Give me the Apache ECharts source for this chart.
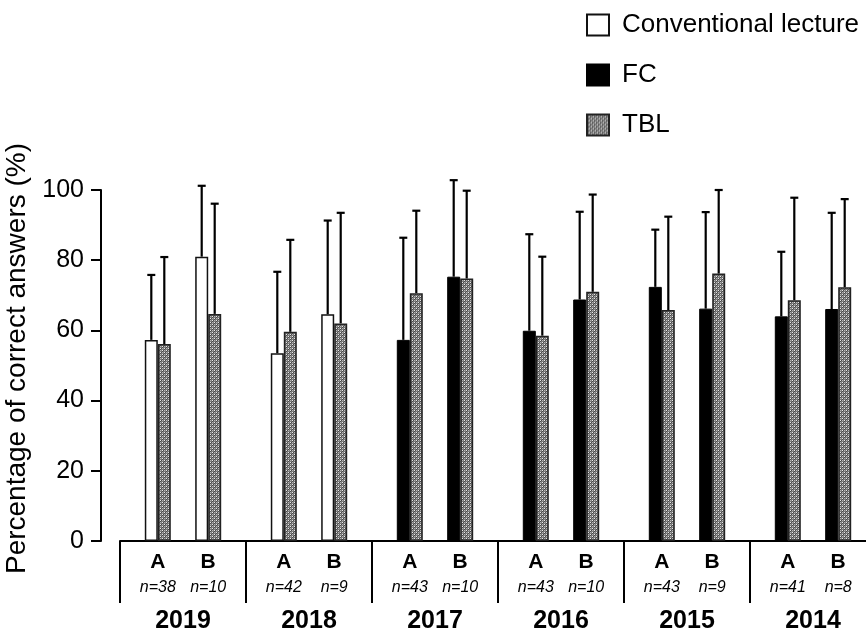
<!DOCTYPE html>
<html>
<head>
<meta charset="utf-8">
<script src="https://cdn.jsdelivr.net/npm/echarts@6/dist/echarts.min.js"></script>
<style>
  html, body { margin: 0; padding: 0; background: #fff; }
  #chart { width: 866px; height: 637px; }
</style>
</head>
<body>
<div id="chart"></div>
<script>
// Academic years, cohorts within each year, and cohort sizes
const years = ['2019', '2018', '2017', '2016', '2015', '2014'];
const cohorts = ['A', 'B'];
const sampleSizes = [38, 10, 42, 9, 43, 10, 43, 10, 43, 9, 41, 8];

// Mean percentage of correct answers (one entry per year/cohort) and SD
const lectureMean = [57.3, 81.0, 53.5, 64.6, null, null, null, null, null, null, null, null];
const lectureSD   = [18.5, 20.2, 23.2, 26.7, null, null, null, null, null, null, null, null];
const fcMean      = [null, null, null, null, 57.3, 75.3, 59.9, 68.8, 72.4, 66.2, 64.0, 66.1];
const fcSD        = [null, null, null, null, 29.1, 27.5, 27.5, 25.0, 16.3, 27.5, 18.4, 27.4];
const tblMean     = [56.1, 64.7, 59.6, 62.0, 70.6, 74.8, 58.5, 71.0, 65.8, 76.2, 68.6, 72.3];
const tblSD       = [24.8, 31.4, 26.2, 31.5, 23.5, 25.0, 22.5, 27.7, 26.6, 23.8, 29.2, 25.1];

const yTicks = [0, 20, 40, 60, 80, 100];

// Each year spans five slots: gap, A, gap, B, gap
const SLOTS_PER_YEAR = 5;
const cohortSlot = [1, 3];
const slotCount = years.length * SLOTS_PER_YEAR;
const slots = [];
for (let i = 0; i < slotCount; i++) slots.push('s' + i);

function slotIndex(k) {
  return Math.floor(k / 2) * SLOTS_PER_YEAR + cohortSlot[k % 2];
}
function spread(values) {
  const out = new Array(slotCount).fill(null);
  values.forEach((v, k) => { out[slotIndex(k)] = v; });
  return out;
}
function cohortOfSlot(i) {
  const p = i % SLOTS_PER_YEAR;
  const c = cohortSlot.indexOf(p);
  if (c < 0) return null;
  return { year: Math.floor(i / SLOTS_PER_YEAR), cohort: c };
}

// Dotted mesh fill used for TBL bars
function meshPattern() {
  const c = document.createElement('canvas');
  c.width = 4; c.height = 4;
  const g = c.getContext('2d');
  g.fillStyle = '#7a7a7a';
  g.fillRect(0, 0, 4, 4);
  g.fillStyle = '#4a4a4a';
  g.fillRect(1, 0, 1, 1); g.fillRect(3, 2, 1, 1);
  g.fillRect(0, 1, 1, 1); g.fillRect(2, 3, 1, 1);
  g.fillStyle = '#e8e8e8';
  g.fillRect(0, 0, 1, 1); g.fillRect(2, 2, 1, 1);
  g.fillStyle = '#b4b4b4';
  g.fillRect(2, 0, 1, 1); g.fillRect(0, 2, 1, 1);
  return { image: c, repeat: 'repeat' };
}

const BAR_W = 13;
// Error bar items: [slot, mean, mean + SD, side(-1 left bar, +1 right bar)]
const errorItems = [];
[[lectureMean, lectureSD, -1], [fcMean, fcSD, -1], [tblMean, tblSD, 1]].forEach(([m, sd, side]) => {
  m.forEach((v, k) => {
    if (v != null) errorItems.push([slotIndex(k), v, v + sd[k], side]);
  });
});

const FONT = '"Liberation Sans", Arial, Helvetica, sans-serif';

const chart = echarts.init(document.getElementById('chart'), null, { renderer: 'canvas' });

chart.setOption({
  backgroundColor: '#ffffff',
  animation: false,
  textStyle: { fontFamily: FONT, color: '#000' },
  legend: {
    orient: 'vertical',
    left: 581,
    top: 7,
    icon: 'rect',
    itemWidth: 22,
    itemHeight: 21,
    itemGap: 24,
    data: ['Conventional lecture', 'FC', 'TBL'],
    textStyle: { fontFamily: FONT, fontSize: 26, color: '#000', padding: [0, 0, 0, 8] }
  },
  grid: { left: 120, top: 190, width: 756, height: 351, outerBoundsMode: 'none', containLabel: false },
  xAxis: [
    {
      type: 'category',
      data: slots,
      position: 'bottom',
      axisLine: { show: false },
      axisTick: { show: false },
      axisLabel: {
        interval: 0,
        margin: 8,
        formatter: function (value, idx) {
          const info = cohortOfSlot(idx);
          if (!info) return '';
          const n = sampleSizes[info.year * 2 + info.cohort];
          return '{c|' + cohorts[info.cohort] + '}\n{n|n=' + n + '}';
        },
        rich: {
          c: { fontFamily: FONT, fontSize: 21, fontWeight: 'bold', color: '#000', lineHeight: 26 },
          n: { fontFamily: FONT, fontSize: 16, fontStyle: 'italic', color: '#000', lineHeight: 26 }
        }
      },
      splitLine: { show: false }
    },
    {
      type: 'category',
      data: years,
      position: 'bottom',
      axisLine: { show: true, lineStyle: { color: '#000', width: 2 } },
      axisTick: { show: true, length: 62, inside: false, lineStyle: { color: '#000', width: 2 } },
      axisLabel: {
        interval: 0,
        margin: 68,
        fontFamily: FONT,
        fontSize: 25,
        fontWeight: 'bold',
        color: '#000'
      },
      splitLine: { show: false }
    }
  ],
  yAxis: {
    type: 'value',
    min: yTicks[0],
    max: yTicks[yTicks.length - 1],
    interval: yTicks[1] - yTicks[0],
    position: 'left',
    offset: 19,
    name: 'Percentage of correct answers (%)',
    nameLocation: 'middle',
    nameGap: 53,
    nameTextStyle: { fontFamily: FONT, fontSize: 28, color: '#000', padding: [0, 0, 0, 14] },
    axisLine: { show: true, lineStyle: { color: '#000', width: 2 } },
    axisTick: { show: true, length: 10, inside: false, lineStyle: { color: '#000', width: 2 } },
    axisLabel: { fontFamily: FONT, fontSize: 25, color: '#000', margin: 17 },
    splitLine: { show: false }
  },
  series: [
    {
      name: 'Conventional lecture',
      type: 'bar',
      stack: 'left',
      xAxisIndex: 0,
      barWidth: BAR_W,
      barGap: '0%',
      data: spread(lectureMean),
      itemStyle: { color: '#ffffff', borderColor: '#111', borderWidth: 1.5 }
    },
    {
      name: 'FC',
      type: 'bar',
      stack: 'left',
      xAxisIndex: 0,
      barWidth: BAR_W,
      barGap: '0%',
      data: spread(fcMean),
      itemStyle: { color: '#000000', borderColor: '#000', borderWidth: 1 }
    },
    {
      name: 'TBL',
      type: 'bar',
      xAxisIndex: 0,
      barWidth: BAR_W,
      barGap: '0%',
      data: spread(tblMean),
      itemStyle: { color: meshPattern(), borderColor: '#222', borderWidth: 1.5 }
    },
    {
      name: 'SD',
      type: 'custom',
      xAxisIndex: 0,
      z: 5,
      data: errorItems,
      encode: { x: 0, y: [1, 2] },
      renderItem: function (params, api) {
        const side = api.value(3);
        const base = api.coord([api.value(0), api.value(1)]);
        const top = api.coord([api.value(0), api.value(2)]);
        const x = base[0] + side * BAR_W / 2;
        const style = { stroke: '#000', lineWidth: 2.2 };
        return {
          type: 'group',
          children: [
            { type: 'line', shape: { x1: x, y1: base[1], x2: x, y2: top[1] }, style: style },
            { type: 'line', shape: { x1: x - 4, y1: top[1], x2: x + 4, y2: top[1] }, style: style }
          ]
        };
      }
    }
  ]
});
</script>
</body>
</html>
